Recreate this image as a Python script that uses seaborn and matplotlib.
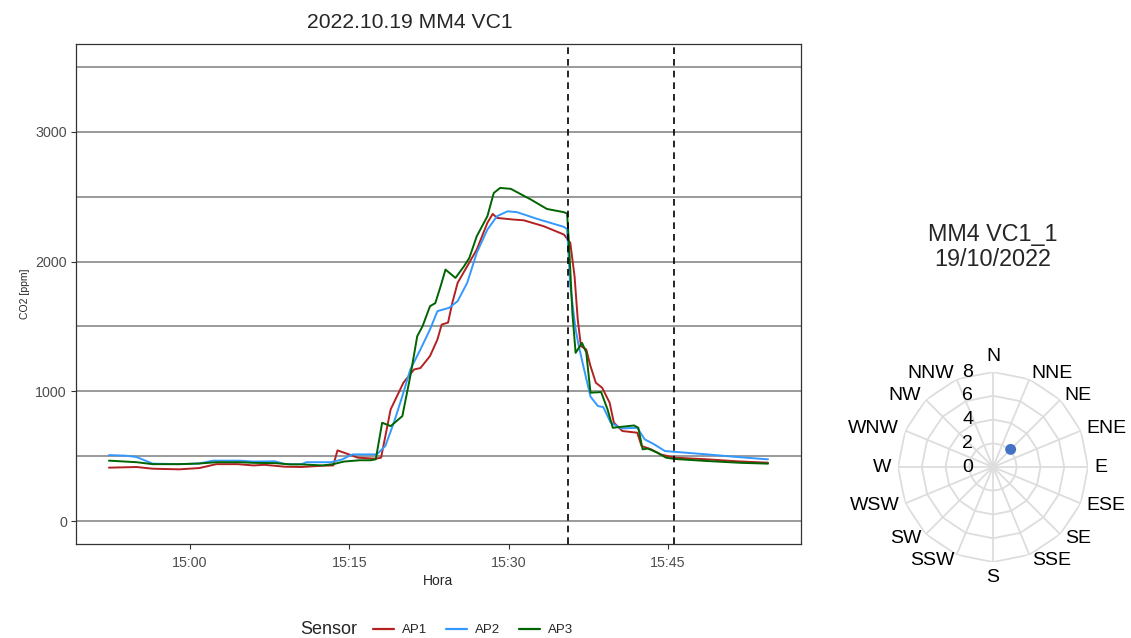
import numpy as np
import pandas as pd
import matplotlib
matplotlib.use("Agg")
import matplotlib.pyplot as plt
import matplotlib.dates as mdates
import matplotlib.transforms as mtransforms
import seaborn as sns

# CO2 readings, minutes after 15:00 and ppm, one pair of lists per sensor
ap1_min = [-7.6, -5, -3.5, -1, 0.9, 2.5, 4.5, 6, 7, 9, 10.5, 12.5, 13.5, 13.9, 14.8, 15.8,
           17.5, 18.0, 18.9, 19.5, 20.1, 21.1, 21.7, 22.6, 23.3, 23.7, 24.3, 24.7, 25.2,
           26.1, 27.0, 28.0, 28.5, 28.9, 30.5, 31.4, 33.3, 35.2, 35.8, 36.2, 36.5, 36.8,
           37.3, 37.7, 38.2, 38.8, 39.5, 39.9, 40.7, 42.1, 42.5, 43.4, 44.3, 45.6, 48.7,
           51.5, 54.4]
ap1_ppm = [413, 418, 405, 400, 410, 440, 440, 430, 435, 420, 418, 428, 430, 546, 520, 490,
           482, 490, 862, 964, 1067, 1169, 1180, 1272, 1400, 1515, 1530, 1682, 1836,
           1964, 2092, 2298, 2367, 2336, 2323, 2318, 2272, 2208, 2144, 1887, 1554, 1349,
           1323, 1195, 1067, 1028, 913, 759, 695, 682, 580, 554, 515, 490, 477,
           462, 451]

ap2_min = [-7.6, -6, -5, -3.5, -1, 0.9, 2.2, 4.7, 6, 8, 9, 10.5, 11, 13.3, 14.3, 15.3,
           16.9, 17.6, 18.4, 19.2, 20.0, 20.75, 21.7, 22.6, 23.3, 24.4, 25.2, 26.1, 27.0,
           28.0, 28.9, 29.9, 30.8, 32.7, 35.2, 35.5, 35.8, 36.3, 36.6, 37.1, 37.7, 38.4,
           38.9, 39.6, 40.6, 42.1, 42.8, 43.7, 44.7, 45.6, 48.7, 51.5, 54.4]
ap2_ppm = [510, 505, 495, 444, 440, 445, 467, 467, 460, 462, 440, 440, 455, 455, 475, 515,
           515, 515, 580, 759, 964, 1169, 1323, 1477, 1618, 1644, 1695, 1836, 2067,
           2246, 2349, 2387, 2380, 2328, 2267, 2250, 1810, 1477, 1349, 1169, 960, 887,
           880, 760, 715, 720, 631, 592, 541, 535, 515, 495, 477]

ap3_min = [-7.6, -5, -3.5, -1, 0.9, 2.5, 4.7, 6, 8, 9.5, 10.5, 12.5, 13.5, 14.5, 16.0, 17.0,
           17.5, 18.1, 18.9, 20.0, 20.75, 21.4, 21.9, 22.6, 23.1, 23.6, 24.06, 25.0, 25.8,
           26.3, 27.0, 28.0, 28.6, 29.2, 30.2, 32.1, 33.6, 35.2, 35.5, 35.7, 36.0, 36.3,
           36.9, 37.3, 37.7, 38.7, 39.3, 39.8, 40.9, 41.8, 42.2, 42.6, 43.1, 44.0, 44.8,
           45.6, 48.7, 51.9, 54.4]
ap3_ppm = [467, 455, 440, 440, 445, 455, 455, 450, 448, 438, 438, 430, 440, 460, 470, 470,
           477, 759, 733, 810, 1118, 1425, 1502, 1656, 1680, 1810, 1938, 1874, 1964,
           2028, 2195, 2349, 2528, 2567, 2560, 2477, 2405, 2380, 2370, 2100, 1600, 1297,
           1374, 1300, 990, 995, 862, 720, 730, 738, 720, 554, 560, 528, 490,
           480, 464, 450, 444]

sensors = ["AP1", "AP2", "AP3"]
sensor_colors = ["#B22222", "#3399FF", "#006400"]
ref_levels = [0, 500, 1000, 1500, 2000, 2500, 3000, 3500]
event_min = [35.55, 45.55]
x_tick_min = [0, 15, 30, 45]

# wind rose
directions = ["N", "NNE", "NE", "ENE", "E", "ESE", "SE", "SSE",
              "S", "SSW", "SW", "WSW", "W", "WNW", "NW", "NNW"]
wind_dir = ["NE"]
wind_speed = [2.1]
r_ticks = [0, 2, 4, 6, 8]

base = pd.Timestamp("2022-10-19 15:00")
frames = []
for name, mins, ppm in zip(sensors, [ap1_min, ap2_min, ap3_min], [ap1_ppm, ap2_ppm, ap3_ppm]):
    frames.append(pd.DataFrame({
        "Hora": base + pd.to_timedelta(mins, unit="m"),
        "CO2": ppm,
        "Sensor": name,
    }))
df = pd.concat(frames, ignore_index=True)

sns.set_style("white")
plt.rcParams["font.family"] = ["Liberation Sans", "DejaVu Sans"]

fig = plt.figure(figsize=(11.31, 6.38), dpi=100)
ax = fig.add_axes([0.0672, 0.1473, 0.641, 0.7837])

for lvl in ref_levels:
    ax.axhline(lvl, color="#7F7F7F", lw=1.1, zorder=1)
for m in event_min:
    ax.axvline(base + pd.Timedelta(minutes=m), color="black", lw=1.2, ls=(0, (4, 3)), zorder=3)

sns.lineplot(data=df, x="Hora", y="CO2", hue="Sensor",
             palette=dict(zip(sensors, sensor_colors)), lw=1.4, ax=ax, legend=False, zorder=2)

x_all = df["Hora"]
span = x_all.max() - x_all.min()
ax.set_xlim(x_all.min() - span * 0.05, x_all.max() + span * 0.05)
ax.set_ylim(-175, 3675)
ax.set_xticks([base + pd.Timedelta(minutes=m) for m in x_tick_min])
ax.xaxis.set_major_formatter(mdates.DateFormatter("%H:%M"))
ax.set_yticks([0, 1000, 2000, 3000])
ax.tick_params(axis="both", colors="#333333", labelcolor="#4D4D4D", labelsize=10.3,
               length=3.5, width=0.8, direction="out", pad=3)
ax.tick_params(axis="x", pad=5)
ax.tick_params(axis="both", which="both", bottom=True, left=True)
for sp in ax.spines.values():
    sp.set_color("#333333")
    sp.set_linewidth(0.9)
ax.set_xlabel("Hora", fontsize=10, labelpad=3)
ax.set_ylabel("CO2 [ppm]", fontsize=7.5, labelpad=4)
fig.text(410 / 1131, 1 - 22 / 638, "2022.10.19 MM4 VC1", ha="center", va="center",
         fontsize=15.2)

handles = [plt.Line2D([], [], color=c, lw=1.6) for c in sensor_colors]
fig.legend(handles, sensors, loc="center", bbox_to_anchor=(473 / 1131, 1 - 630 / 638),
           ncol=3, frameon=False, fontsize=9.5, handlelength=1.6, handletextpad=0.6,
           columnspacing=1.45)
fig.text(300 / 1131, 1 - 630 / 638, "Sensor", ha="left", va="center", fontsize=13)

# wind rose panel
ax2 = fig.add_axes([0.794, 0.119, 0.168, 0.298], projection="polar")
ax2.set_theta_zero_location("N")
ax2.set_theta_direction(-1)
ax2.set_ylim(0, 8)
ax2.grid(False)
ax2.spines["polar"].set_visible(False)

angles = np.deg2rad(np.arange(len(directions)) * 360 / len(directions))
ring_angles = np.append(angles, angles[0])
for r in r_ticks[1:]:
    ax2.plot(ring_angles, [r] * len(ring_angles), color="#DDDDDD", lw=1.3, zorder=1)
for a in angles:
    ax2.plot([a, a], [0, 8], color="#DDDDDD", lw=1.3, zorder=1)

for a, lab in zip(angles, directions):
    s, c = np.sin(a), np.cos(a)
    ha = "left" if s > 0.05 else ("right" if s < -0.05 else "center")
    va = "bottom" if c > 0.99 else ("top" if c < -0.99 else "center")
    ax2.text(a, 8.55, lab, ha=ha, va=va, fontsize=14, color="black")

rlab_tr = mtransforms.offset_copy(ax2.transData, fig=fig, x=-20, y=0, units="dots")
for r in r_ticks:
    ax2.text(0, r, str(r), ha="right", va="center", fontsize=14, color="black",
             transform=rlab_tr)

wind_df = pd.DataFrame({
    "theta": [angles[directions.index(d)] for d in wind_dir],
    "speed": wind_speed,
})
sns.scatterplot(data=wind_df, x="theta", y="speed", ax=ax2, color="#4472C4", s=62,
                edgecolor="none", zorder=5, clip_on=False)
ax2.set_xlabel("")
ax2.set_ylabel("")
ax2.set_xticks([])
ax2.set_yticks([])

fig.text(993 / 1131, 1 - 247 / 638, "MM4 VC1_1\n19/10/2022", ha="center", va="center",
         fontsize=16.8, linespacing=1.12)

fig.savefig("out.png", dpi=100)
